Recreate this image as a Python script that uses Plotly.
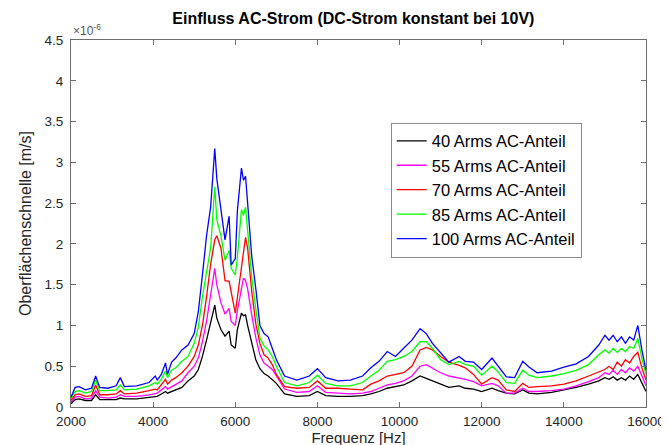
import plotly.graph_objects as go

freq = [2000, 2100, 2200, 2350, 2500, 2600, 2700, 2900, 3100, 3200, 3300, 3600, 3900, 4050, 4100,
        4200, 4300, 4350, 4450, 4550, 4700, 4850, 5000, 5100, 5200, 5300, 5400, 5500, 5550, 5650,
        5750, 5850, 5900, 6000, 6050, 6150, 6200, 6250, 6300, 6400, 6500, 6600, 6700, 6800, 6900,
        7000, 7200, 7500, 7800, 8000, 8200, 8500, 8800, 9100, 9300, 9500, 9700, 9900, 10100, 10300,
        10500, 10650, 10800, 11000, 11200, 11450, 11600, 11800, 12000, 12250, 12400, 12600, 12800,
        13000, 13150, 13350, 13700, 14000, 14300, 14600, 14850, 15000, 15100, 15200, 15300, 15400,
        15500, 15600, 15700, 15800, 15900, 16000]

a40 = [0.04, 0.09, 0.10, 0.08, 0.08, 0.15, 0.09, 0.09, 0.09, 0.11, 0.10, 0.10, 0.12, 0.13, 0.13,
       0.16, 0.19, 0.17, 0.19, 0.21, 0.24, 0.32, 0.38, 0.46, 0.62, 0.82, 1.05, 1.25, 1.09, 0.95,
       0.87, 0.93, 0.76, 0.72, 0.95, 1.15, 1.12, 1.13, 1.00, 0.78, 0.58, 0.47, 0.41, 0.38, 0.33,
       0.29, 0.16, 0.13, 0.14, 0.19, 0.14, 0.13, 0.13, 0.14, 0.16, 0.19, 0.23, 0.25, 0.27, 0.32,
       0.38, 0.35, 0.32, 0.28, 0.24, 0.26, 0.23, 0.22, 0.19, 0.23, 0.20, 0.17, 0.16,
       0.21, 0.17, 0.16, 0.18, 0.21, 0.24, 0.28, 0.32, 0.36, 0.34, 0.37, 0.33, 0.36,
       0.33, 0.38, 0.34, 0.40, 0.30, 0.19]

a55 = [0.06, 0.12, 0.13, 0.10, 0.11, 0.20, 0.12, 0.11, 0.12, 0.15, 0.13, 0.13, 0.15, 0.17, 0.17,
       0.21, 0.25, 0.22, 0.25, 0.28, 0.32, 0.42, 0.50, 0.60, 0.80, 1.05, 1.35, 1.70, 1.50, 1.28,
       1.14, 1.21, 1.05, 1.00, 1.18, 1.44, 1.58, 1.55, 1.45, 1.13, 0.85, 0.64, 0.54, 0.50, 0.46,
       0.38, 0.22, 0.18, 0.19, 0.26, 0.18, 0.17, 0.16, 0.17, 0.19, 0.23, 0.27, 0.29, 0.32, 0.38,
       0.50, 0.52, 0.48, 0.42, 0.38, 0.36, 0.34, 0.31, 0.26, 0.29, 0.26, 0.17, 0.17,
       0.23, 0.19, 0.19, 0.20, 0.22, 0.26, 0.31, 0.36, 0.42, 0.40, 0.45, 0.40, 0.46,
       0.42, 0.48, 0.44, 0.50, 0.38, 0.26]

a70 = [0.08, 0.15, 0.16, 0.13, 0.14, 0.27, 0.15, 0.15, 0.16, 0.20, 0.16, 0.17, 0.20, 0.22, 0.21,
       0.27, 0.34, 0.28, 0.33, 0.36, 0.42, 0.50, 0.62, 0.76, 1.00, 1.35, 1.75, 2.05, 2.10, 1.95,
       1.55, 1.54, 1.42, 1.15, 1.34, 1.72, 1.90, 2.08, 1.95, 1.42, 1.02, 0.78, 0.64, 0.60, 0.52,
       0.40, 0.25, 0.23, 0.24, 0.32, 0.23, 0.23, 0.22, 0.21, 0.28, 0.32, 0.38, 0.40, 0.42, 0.50,
       0.70, 0.73, 0.70, 0.62, 0.55, 0.51, 0.48, 0.40, 0.28, 0.36, 0.33, 0.21, 0.19,
       0.29, 0.24, 0.25, 0.26, 0.28, 0.32, 0.38, 0.43, 0.46, 0.50, 0.46, 0.55, 0.50,
       0.58, 0.54, 0.62, 0.67, 0.48, 0.33]

a85 = [0.10, 0.19, 0.20, 0.17, 0.19, 0.33, 0.20, 0.20, 0.21, 0.27, 0.21, 0.22, 0.26, 0.30, 0.28,
       0.34, 0.44, 0.36, 0.45, 0.48, 0.56, 0.62, 0.78, 0.98, 1.35, 1.65, 1.95, 2.70, 2.30, 2.10,
       1.80, 1.92, 1.70, 1.62, 1.83, 2.42, 2.35, 2.45, 2.19, 1.60, 1.20, 0.85, 0.75, 0.70, 0.62,
       0.50, 0.30, 0.26, 0.30, 0.39, 0.29, 0.26, 0.26, 0.30, 0.38, 0.45, 0.56, 0.58, 0.62, 0.68,
       0.80, 0.80, 0.72, 0.58, 0.52, 0.56, 0.52, 0.50, 0.39, 0.50, 0.43, 0.30, 0.29,
       0.45, 0.39, 0.36, 0.38, 0.41, 0.45, 0.52, 0.64, 0.70, 0.66, 0.72, 0.67, 0.72,
       0.68, 0.74, 0.72, 0.84, 0.60, 0.40]

a100 = [0.12, 0.24, 0.25, 0.21, 0.23, 0.38, 0.24, 0.23, 0.26, 0.36, 0.25, 0.26, 0.30, 0.38, 0.33,
        0.40, 0.54, 0.40, 0.55, 0.60, 0.70, 0.76, 0.90, 1.17, 1.62, 2.10, 2.45, 3.17, 2.80, 2.45,
        2.05, 2.34, 1.74, 1.82, 2.40, 2.93, 2.78, 2.83, 2.52, 1.85, 1.45, 1.00, 0.90, 0.86, 0.72,
        0.58, 0.38, 0.33, 0.38, 0.47, 0.36, 0.32, 0.33, 0.38, 0.48, 0.56, 0.68, 0.62, 0.72, 0.82,
        0.96, 0.90, 0.78, 0.66, 0.55, 0.62, 0.56, 0.55, 0.46, 0.60, 0.50, 0.37, 0.36,
        0.56, 0.49, 0.42, 0.44, 0.49, 0.53, 0.62, 0.76, 0.88, 0.82, 0.88, 0.80, 0.86,
        0.78, 0.86, 0.82, 1.00, 0.70, 0.45]

series_names = ["40 Arms AC-Anteil", "55 Arms AC-Anteil", "70 Arms AC-Anteil",
                "85 Arms AC-Anteil", "100 Arms AC-Anteil"]
series_values = [a40, a55, a70, a85, a100]
series_colors = ["#000000", "#ff00ff", "#ff0000", "#00ff00", "#0000ff"]

x_ticks = [2000, 4000, 6000, 8000, 10000, 12000, 14000, 16000]
x_ticktext = ["2000", "4000", "6000", "8000", "10000", "12000", "14000", "16000"]
y_ticks = [0, 0.5, 1, 1.5, 2, 2.5, 3, 3.5, 4, 4.5]
y_ticktext = ["0", "0.5", "1", "1.5", "2", "2.5", "3", "3.5", "4", "4.5"]

FONT = "Liberation Sans, Arial, sans-serif"
AXC = "#6e6e6e"
TXT = "#262626"

fig = go.Figure()
for name, vals, col in zip(series_names, series_values, series_colors):
    fig.add_trace(go.Scatter(x=freq, y=vals, mode="lines", name=name,
                             line=dict(color=col, width=1.3)))

axis_common = dict(showline=True, linecolor=AXC, linewidth=1, mirror="ticks",
                   ticks="inside", ticklen=5, tickcolor=AXC, showgrid=False, zeroline=False,
                   tickfont=dict(family=FONT, size=13.5, color=TXT))

fig.update_layout(
    width=669, height=445,
    margin=dict(l=63, r=29, t=32, b=46),
    paper_bgcolor="white", plot_bgcolor="white",
    font=dict(family=FONT, color=TXT),
    title=dict(text="<b>Einfluss AC-Strom (DC-Strom konstant bei 10V)</b>",
               x=0.491, xref="paper", xanchor="center",
               y=1, yref="container", yanchor="top", pad=dict(t=5),
               font=dict(family=FONT, size=16, color="#000000")),
    xaxis=dict(range=[2000, 16000], tickvals=x_ticks, ticktext=x_ticktext, ticklabelstandoff=2,
               title=dict(text="Frequenz [Hz]", font=dict(family=FONT, size=15, color=TXT), standoff=0),
               **axis_common),
    yaxis=dict(range=[0, 4.5], tickvals=y_ticks, ticktext=y_ticktext, ticklabelstandoff=4,
               title=dict(text="Oberflächenschnelle [m/s]", font=dict(family=FONT, size=16, color=TXT), standoff=8),
               **axis_common),
    legend=dict(x=0.556, y=0.775, xanchor="left", yanchor="top",
                bgcolor="white", bordercolor="#8a8a8a", borderwidth=1,
                font=dict(family=FONT, size=16.5, color="#000000"),
                tracegroupgap=0),
    showlegend=True,
)

fig.add_annotation(text="×10<sup>-6</sup>", xref="paper", yref="paper", x=0, y=1.0,
                   xanchor="left", yanchor="bottom", showarrow=False,
                   font=dict(family=FONT, size=12, color="#555555"))

fig.write_html("out.html")
